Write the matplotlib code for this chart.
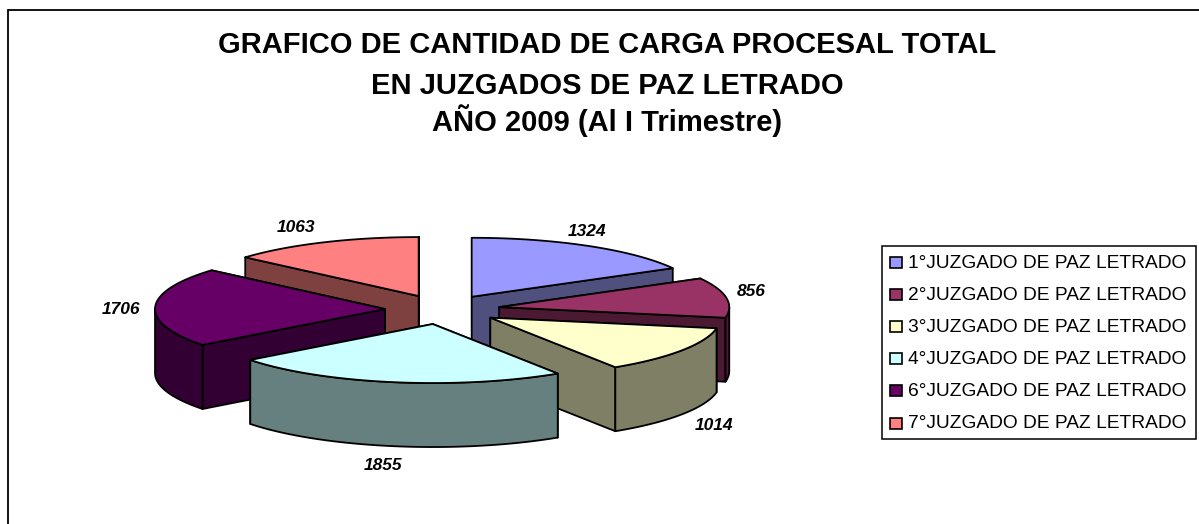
from math import sin, cos, radians
from matplotlib import pyplot as plt
from matplotlib.patches import Polygon, Rectangle

plt.rcParams['font.family'] = ['Liberation Sans', 'DejaVu Sans']

title_lines = [
    'GRAFICO DE CANTIDAD DE CARGA PROCESAL TOTAL',
    'EN JUZGADOS DE PAZ LETRADO',
    'AÑO 2009 (Al I Trimestre)',
]
names = [
    '1°JUZGADO DE PAZ LETRADO',
    '2°JUZGADO DE PAZ LETRADO',
    '3°JUZGADO DE PAZ LETRADO',
    '4°JUZGADO DE PAZ LETRADO',
    '6°JUZGADO DE PAZ LETRADO',
    '7°JUZGADO DE PAZ LETRADO',
]
values = [1324, 856, 1014, 1855, 1706, 1063]

top_colors = ['#9999FF', '#993366', '#FFFFCC', '#CCFFFF', '#660066', '#FF8080']
side_colors = ['#50507F', '#4C1933', '#7F7F66', '#667F7F', '#330033', '#7F4040']
label_pos = [(587, 232), (751, 292), (714, 425), (383, 466), (121, 310), (296, 227)]

# pie geometry in image pixels
CX, CY = 442.5, 309.5
A, B = 230, 59
DEPTH = 64
EXPLODE = 0.25


def point(x0, y0, ang):
    # ang is clockwise from 12 o'clock
    return x0 + A * sin(radians(ang)), y0 - B * cos(radians(ang))


def arc(x0, y0, a0, a1):
    n = max(int(abs(a1 - a0)), 1) + 1
    return [point(x0, y0, a0 + (a1 - a0) * i / (n - 1)) for i in range(n)]


def draw_slice(ax, start, end, top, side):
    mid = (start + end) / 2
    ax0 = CX + EXPLODE * A * sin(radians(mid))
    ay0 = CY - EXPLODE * B * cos(radians(mid))
    kw = dict(edgecolor='black', linewidth=1.3, joinstyle='round')

    # radial walls, the one further back first
    ends = sorted([start, end], key=lambda a: point(ax0, ay0, a)[1])
    for a in ends:
        px, py = point(ax0, ay0, a)
        ax.add_patch(Polygon([(ax0, ay0), (px, py), (px, py + DEPTH), (ax0, ay0 + DEPTH)],
                             closed=True, facecolor=side, **kw))

    # outer wall, only the front half of the ellipse shows
    lo, hi = max(start, 90), min(end, 270)
    if lo < hi:
        rim = arc(ax0, ay0, lo, hi)
        low = [(x, y + DEPTH) for x, y in reversed(rim)]
        ax.add_patch(Polygon(rim + low, closed=True, facecolor=side, **kw))

    ax.add_patch(Polygon([(ax0, ay0)] + arc(ax0, ay0, start, end), closed=True, facecolor=top, **kw))


def main():
    fig = plt.figure(figsize=(11.99, 5.24), dpi=100)
    ax = fig.add_axes([0, 0, 1, 1])
    ax.set_xlim(0, 1199)
    ax.set_ylim(524, 0)
    ax.axis('off')

    # chart frame, runs off the right and bottom of the picture
    ax.add_patch(Rectangle((8, 9.5), 1300, 600, facecolor='white', edgecolor='black', linewidth=1.3))

    for line, y in zip(title_lines, [45, 86, 121]):
        ax.text(607, y, line, fontsize=21, fontweight='bold', ha='center', va='center')

    total = sum(values)
    slices = []
    ang = 0
    for i, v in enumerate(values):
        sweep = 360 * v / total
        mid = ang + sweep / 2
        slices.append((CY - EXPLODE * B * cos(radians(mid)), ang, ang + sweep, i))
        ang += sweep

    # painter's order, back to front
    for _, a0, a1, i in sorted(slices):
        draw_slice(ax, a0, a1, top_colors[i], side_colors[i])

    for v, (x, y) in zip(values, label_pos):
        ax.text(x, y, str(v), fontsize=12.5, fontweight='bold', fontstyle='italic',
                ha='center', va='center')

    # legend
    ax.add_patch(Rectangle((882, 246), 314, 193, facecolor='white', edgecolor='black', linewidth=1.1))
    for i, name in enumerate(names):
        y = 262 + i * 32.2
        ax.add_patch(Rectangle((890, y - 5.5), 12, 11, facecolor=top_colors[i], edgecolor='black', linewidth=1.2))
        ax.text(908, y + 1, name, fontsize=13.8, ha='left', va='center')

    fig.savefig('out.png', dpi=100)


if __name__ == '__main__':
    main()
